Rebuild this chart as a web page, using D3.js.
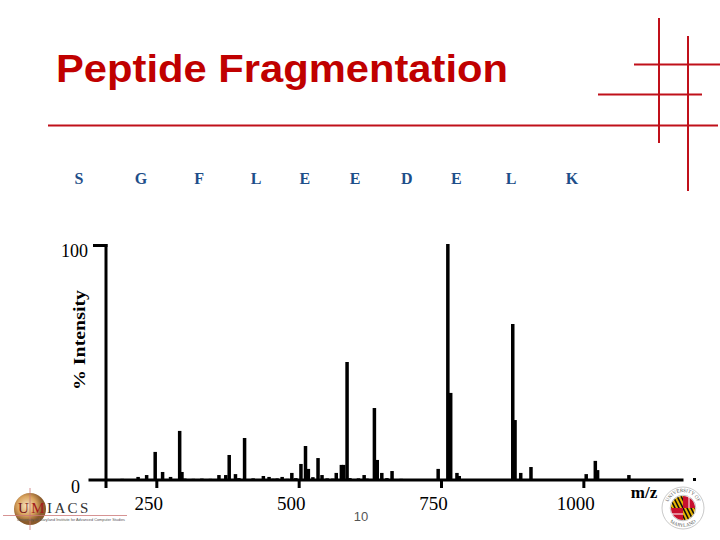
<!DOCTYPE html>
<html><head><meta charset="utf-8">
<script src="https://cdn.jsdelivr.net/npm/d3@7"></script>
<style>body{margin:0;background:#fff}svg{display:block}</style>
</head><body>
<svg id="c" width="720" height="540"></svg>
<script>
// ---- data ----
const residues = ["S","G","F","L","E","E","D","E","L","K"];
const residueMz = [114, 223, 325, 425, 511, 599, 690, 777, 873, 980];
const peakMz = [184, 190, 205, 218, 233, 248, 261, 275, 291, 295, 300, 315, 330, 345,
  360, 372, 378, 389, 395, 405, 420, 438, 448, 455, 462, 471, 480, 488, 495,
  504, 512, 517, 525, 534, 541, 550, 560, 566, 575, 579, 585, 590, 605, 615, 620,
  633, 638, 646, 655, 664, 680, 700, 720, 745, 762, 767, 778, 782, 815,
  876, 880, 890, 908, 1005, 1021, 1025, 1080];
const peakIntensity = [0.4, 0.5, 0.4, 1.3, 2.1, 11.9, 3.4, 1.3, 20.8, 3.4, 0.6, 0.5, 0.6, 0.5,
  2.1, 2.1, 10.6, 2.5, 0.8, 17.8, 0.7, 1.7, 1.3, 0.6, 0.7, 1.3, 0.5, 3.0, 0.8,
  6.8, 14.4, 4.7, 1.2, 9.3, 2.1, 0.7, 0.6, 3.0, 6.4, 6.4, 50.0, 0.8, 0.7, 2.1, 0.6,
  30.5, 8.5, 3.0, 0.8, 3.8, 0.5, 0.4, 0.4, 4.7, 100, 36.9, 3.0, 1.7, 0.3,
  66.1, 25.4, 3.0, 5.5, 2.5, 8.1, 4.2, 2.1];
const xTicks = [250, 500, 750, 1000];
const xTickLabels = ["250", "500", "750", "1000"];
const yTickLabels = ["0", "100"];

// ---- drawing ----
const svg = d3.select("#c");
const red = "#c0101a";
const serif = "'Liberation Serif', 'Times New Roman', serif";
const x = d3.scaleLinear().domain([130, 1175]).range([88, 683]);
const y = d3.scaleLinear().domain([0, 100]).range([480, 244]);

// title
svg.append("text").attr("x", 56).attr("y", 82)
  .attr("font-family", "'Liberation Sans', Arial, sans-serif").attr("font-weight", "bold")
  .attr("font-size", 38).attr("fill", "#c00000")
  .attr("textLength", 452).attr("lengthAdjust", "spacingAndGlyphs")
  .text("Peptide Fragmentation");

// decorative red lines
const deco = [
  [48, 125.5, 718, 125.5],
  [659, 18, 659, 143],
  [688, 36, 688, 191],
  [634, 64.5, 720, 64.5],
  [598, 94.5, 702, 94.5]
];
svg.append("g").selectAll("line").data(deco).join("line")
  .attr("x1", d => d[0]).attr("y1", d => d[1]).attr("x2", d => d[2]).attr("y2", d => d[3])
  .attr("stroke", red).attr("stroke-width", 2);

// residue letters
svg.append("g").selectAll("text").data(residues).join("text")
  .attr("x", (d, i) => x(residueMz[i])).attr("y", 184)
  .attr("text-anchor", "middle")
  .attr("font-family", serif).attr("font-weight", "bold")
  .attr("font-size", 16).attr("fill", "#1d4e89")
  .text(d => d);

// peaks
svg.append("g").selectAll("rect").data(peakMz).join("rect")
  .attr("x", d => x(d) - 1.75).attr("width", 3.5)
  .attr("y", (d, i) => y(peakIntensity[i]))
  .attr("height", (d, i) => y(0) - y(peakIntensity[i]))
  .attr("fill", "#000");

// x axis
const xa = svg.append("g").attr("transform", "translate(0,479.5)")
  .call(d3.axisBottom(x).tickValues(xTicks).tickFormat((d, i) => xTickLabels[i]).tickSize(8.5).tickSizeOuter(0));
xa.select(".domain").attr("stroke", "#000").attr("stroke-width", 3);
xa.selectAll(".tick line").attr("stroke", "#000").attr("stroke-width", 3);
xa.selectAll(".tick text").attr("x", -8).attr("y", 30).attr("dy", 0)
  .attr("font-family", serif).attr("font-size", 19).attr("fill", "#000");
svg.append("rect").attr("x", 693).attr("y", 478).attr("width", 3).attr("height", 3).attr("fill", "#000");

// y axis
svg.append("line").attr("x1", 106).attr("x2", 106).attr("y1", y(100)).attr("y2", 488)
  .attr("stroke", "#000").attr("stroke-width", 3);
svg.append("line").attr("x1", 93).attr("x2", 107.5).attr("y1", y(100) + 1.5).attr("y2", y(100) + 1.5)
  .attr("stroke", "#000").attr("stroke-width", 3);
svg.append("text").attr("x", 88).attr("y", 257).attr("text-anchor", "end")
  .attr("font-family", serif).attr("font-size", 18)
  .text(yTickLabels[1]);
svg.append("text").attr("x", 80).attr("y", 493).attr("text-anchor", "end")
  .attr("font-family", serif).attr("font-size", 18)
  .text(yTickLabels[0]);

// axis titles
svg.append("text").attr("transform", "translate(85,340) rotate(-90)")
  .attr("text-anchor", "middle")
  .attr("font-family", serif).attr("font-weight", "bold")
  .attr("font-size", 17).attr("textLength", 100).attr("lengthAdjust", "spacingAndGlyphs")
  .text("% Intensity");
svg.append("text").attr("x", 644).attr("y", 498).attr("text-anchor", "middle")
  .attr("font-family", serif).attr("font-weight", "bold")
  .attr("font-size", 17).text("m/z");

// slide number
svg.append("text").attr("x", 361).attr("y", 521).attr("text-anchor", "middle")
  .attr("font-family", "'Liberation Sans', Arial, sans-serif").attr("font-size", 13).attr("fill", "#555")
  .text("10");

// UMIACS logo
const defs = svg.append("defs");
const rg = defs.append("radialGradient").attr("id", "ug").attr("cx", "40%").attr("cy", "40%");
rg.append("stop").attr("offset", "0%").attr("stop-color", "#f6e3c0");
rg.append("stop").attr("offset", "60%").attr("stop-color", "#d9a35e");
rg.append("stop").attr("offset", "100%").attr("stop-color", "#8a5a2b");
const ul = svg.append("g");
ul.append("circle").attr("cx", 30).attr("cy", 509).attr("r", 16).attr("fill", "url(#ug)");
ul.append("line").attr("x1", 3).attr("x2", 127).attr("y1", 515.5).attr("y2", 515.5).attr("stroke", "#c77").attr("stroke-width", 0.8);
ul.append("line").attr("x1", 30).attr("x2", 30).attr("y1", 488).attr("y2", 530).attr("stroke", "#c77").attr("stroke-width", 0.8);
ul.append("text").attr("x", 18).attr("y", 513)
  .attr("font-family", serif).attr("font-size", 15)
  .attr("letter-spacing", 2.4)
  .selectAll("tspan").data([["U", "#7a1a1a"], ["M", "#a31d1d"], ["IACS", "#333"]]).join("tspan")
  .attr("fill", d => d[1]).text(d => d[0]);
ul.append("text").attr("x", 17).attr("y", 520.5)
  .attr("font-family", "'Liberation Sans', Arial, sans-serif").attr("font-size", 4.2).attr("fill", "#555")
  .attr("textLength", 108).attr("lengthAdjust", "spacingAndGlyphs")
  .text("University of Maryland Institute for Advanced Computer Studies");

// University of Maryland seal
const ml = svg.append("g").attr("transform", "translate(683,508)");
ml.append("circle").attr("r", 21).attr("fill", "#fff").attr("stroke", "#bbb").attr("stroke-width", 0.8);
ml.append("circle").attr("r", 12.8).attr("fill", "#fff").attr("stroke", "#999").attr("stroke-width", 0.6);
const arc = d3.arc().innerRadius(0).outerRadius(12);
const P = Math.PI;
const quads = [
  {c: "#e8b400", s: 1.5 * P, e: 2 * P},   // top-left
  {c: "#c8102e", s: 0, e: 0.5 * P},       // top-right
  {c: "#e8b400", s: 0.5 * P, e: P},       // bottom-right
  {c: "#c8102e", s: P, e: 1.5 * P}        // bottom-left
];
ml.selectAll("path.q").data(quads).join("path").attr("class", "q")
  .attr("d", d => arc({startAngle: d.s, endAngle: d.e})).attr("fill", d => d.c);
const clip = defs.append("clipPath").attr("id", "yclip");
clip.selectAll("path").data(quads.filter(q => q.c === "#e8b400")).join("path")
  .attr("transform", "translate(683,508)")
  .attr("d", d => arc({startAngle: d.s, endAngle: d.e}));
const stripes = [-12, -8, -4, 0, 4, 8, 12];
svg.append("g").attr("clip-path", "url(#yclip)").selectAll("line").data(stripes).join("line")
  .attr("x1", d => 683 + d - 6).attr("y1", 496).attr("x2", d => 683 + d + 6).attr("y2", 520)
  .attr("stroke", "#111").attr("stroke-width", 1.6);
ml.append("line").attr("x1", -12).attr("x2", 0).attr("y1", 6).attr("y2", 6).attr("stroke", "#fff").attr("stroke-width", 1);
ml.append("line").attr("x1", 6).attr("x2", 6).attr("y1", -12).attr("y2", 0).attr("stroke", "#fff").attr("stroke-width", 1);
defs.append("path").attr("id", "ringTop").attr("d", "M -16 0 A 16 16 0 0 1 16 0");
defs.append("path").attr("id", "ringBot").attr("d", "M -19 0 A 19 19 0 0 0 19 0");
ml.append("text").attr("font-family", serif).attr("font-size", 5).attr("fill", "#555")
  .append("textPath").attr("href", "#ringTop").attr("startOffset", "50%").attr("text-anchor", "middle").text("UNIVERSITY OF");
ml.append("text").attr("font-family", serif).attr("font-size", 5).attr("fill", "#555")
  .append("textPath").attr("href", "#ringBot").attr("startOffset", "50%").attr("text-anchor", "middle").text("MARYLAND");
</script>
</body></html>
